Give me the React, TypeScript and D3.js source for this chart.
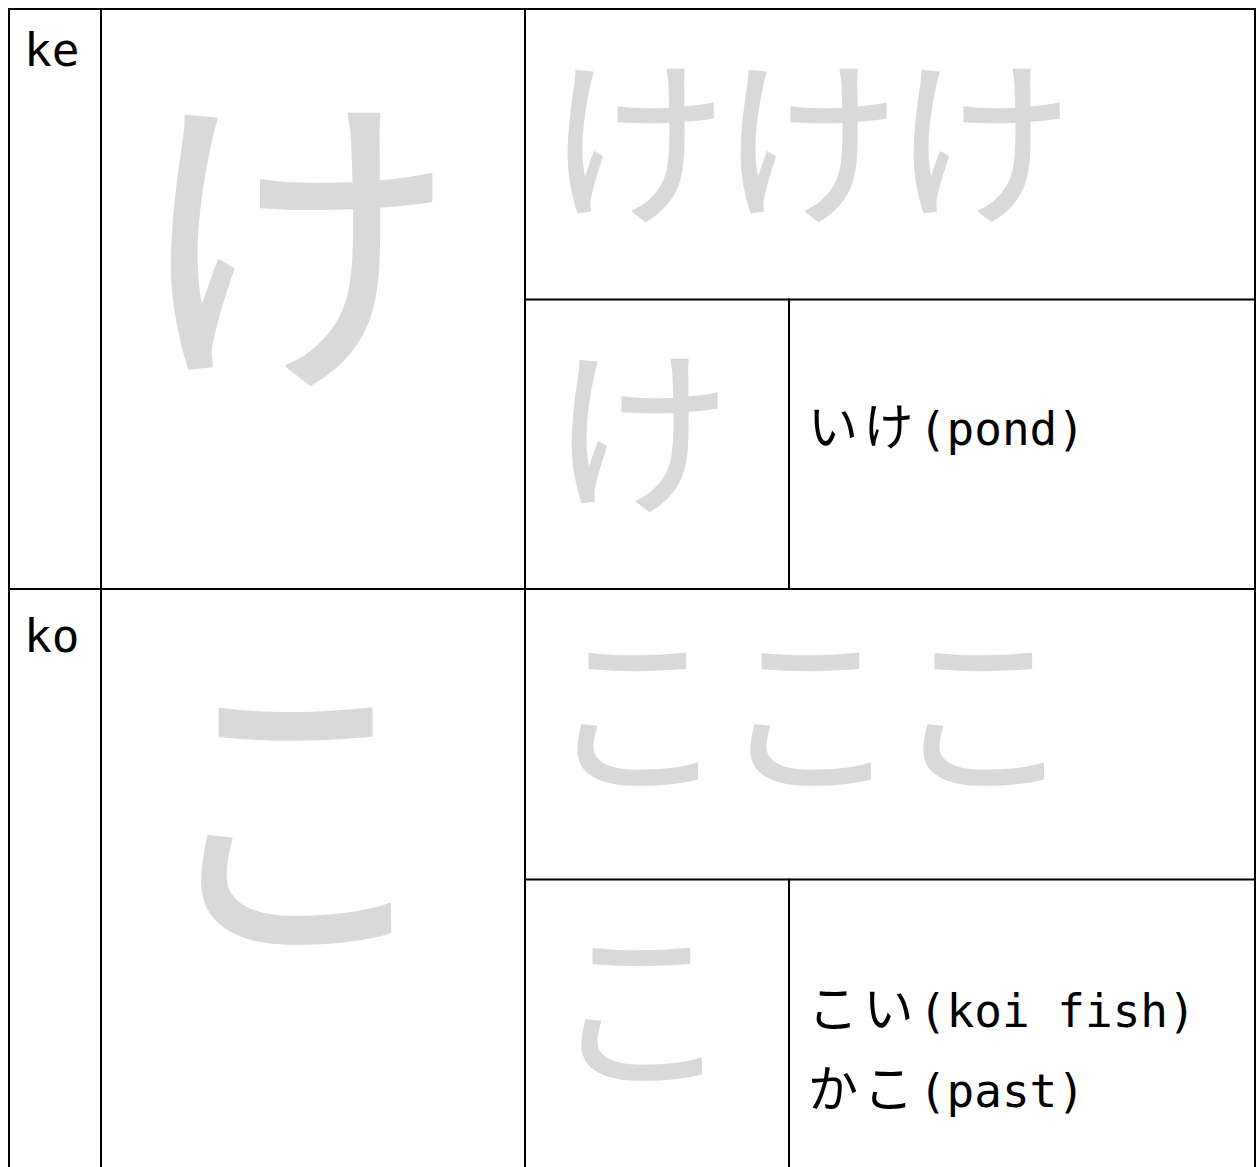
import React from "react";
import * as d3 from "d3";

// ---- data ----
const romaji: string[] = ["ke", "ko"];
const kana: string[] = ["け", "こ"];
const examples: string[][] = [["いけ(pond)"], ["こい(koi fish)", "かこ(past)"]];
const practiceCount = 3;

const W = 1258;
const H = 1167;
const LINE = "#000";
const GREY = "#d9d9d9";
const MONO = "'DejaVu Sans Mono', 'Noto Sans CJK JP', monospace";
const KANA_FONT = "'Noto Sans CJK JP', sans-serif";

function splitKana(s: string): [string, string] {
  let i = 0;
  while (i < s.length && s.charCodeAt(i) > 255) i++;
  return [s.slice(0, i), s.slice(i)];
}

export default function App() {
  // column edges: label | big glyph | practice (left sub) | practice (right sub)
  const colEdges = [9, 101, 525, 789, 1255];
  const rowScale = d3
    .scaleBand<number>()
    .domain(d3.range(romaji.length))
    .range([9, 9 + 580 * romaji.length])
    .paddingInner(0)
    .paddingOuter(0);
  const rh = rowScale.bandwidth();
  const practiceX = d3
    .scaleLinear()
    .domain([0, 1])
    .range([637, 637 + 173]);

  const lines: { x1: number; y1: number; x2: number; y2: number }[] = [];
  lines.push({ x1: colEdges[0], y1: 9, x2: colEdges[4], y2: 9 });
  lines.push({ x1: colEdges[0], y1: 9, x2: colEdges[0], y2: H + 10 });
  lines.push({ x1: colEdges[1], y1: 9, x2: colEdges[1], y2: H + 10 });
  lines.push({ x1: colEdges[2], y1: 9, x2: colEdges[2], y2: H + 10 });
  lines.push({ x1: colEdges[4], y1: 9, x2: colEdges[4], y2: H + 10 });
  romaji.forEach((_, i) => {
    const y0 = rowScale(i)!;
    const ym = y0 + rh / 2 + 0.5;
    lines.push({ x1: colEdges[0], y1: y0 + rh, x2: colEdges[4], y2: y0 + rh });
    lines.push({ x1: colEdges[2], y1: ym, x2: colEdges[4], y2: ym });
    lines.push({ x1: colEdges[3], y1: ym, x2: colEdges[3], y2: y0 + rh });
  });

  const labelOffsets = [57, 63];
  const glyphShiftY = [0, -10];

  return (
    <svg
      width={W}
      height={H}
      style={{ position: "absolute", left: 0, top: 0, background: "#fff" }}
    >
      <rect x={0} y={0} width={W} height={H} fill="#fff" />
      {romaji.map((r, i) => {
        const y0 = rowScale(i)!;
        const dy = glyphShiftY[i];
        const bigCy = y0 + 234 + dy;
        const smallCy = y0 + 133 + dy;
        const subCy = y0 + rh / 2 + 133 + dy * 0.5;
        const bigScaleX = i === 1 ? 0.88 : 1;
        return (
          <g key={r}>
            <text
              x={24}
              y={y0 + labelOffsets[i]}
              fontFamily={MONO}
              fontSize={46}
              fill="#000"
            >
              {r}
            </text>
            <g transform={`translate(295,${bigCy + 0.38 * 322}) scale(${bigScaleX},1)`}>
              <text
                x={0}
                y={0}
                textAnchor="middle"
                fontFamily={KANA_FONT}
                fontSize={322}
                fill={GREY}
                stroke={GREY}
                strokeWidth={3}
                strokeLinejoin="round"
              >
                {kana[i]}
              </text>
            </g>
            {d3.range(practiceCount).map((k) => (
              <text
                key={k}
                x={practiceX(k)}
                y={smallCy + 0.38 * 180}
                textAnchor="middle"
                fontFamily={KANA_FONT}
                fontSize={180}
                fill={GREY}
                stroke={GREY}
                strokeWidth={1.5}
                strokeLinejoin="round"
              >
                {kana[i]}
              </text>
            ))}
            <text
              x={practiceX(0) + 4}
              y={subCy + 0.38 * 180}
              textAnchor="middle"
              fontFamily={KANA_FONT}
              fontSize={180}
              fill={GREY}
              stroke={GREY}
              strokeWidth={1.5}
              strokeLinejoin="round"
            >
              {kana[i]}
            </text>
            {examples[i].map((w, j) => {
              const n = examples[i].length;
              const base =
                n === 1 ? y0 + rh / 2 + 146 : y0 + rh / 2 + 148 + j * 80;
              const [k, rest] = splitKana(w);
              return (
                <text
                  key={j}
                  x={808}
                  y={base}
                  fontFamily={MONO}
                  fontSize={46}
                  fill="#000"
                >
                  <tspan fontFamily={KANA_FONT} fontSize={50} letterSpacing={5.4}>
                    {k}
                  </tspan>
                  <tspan>{rest}</tspan>
                </text>
              );
            })}
          </g>
        );
      })}
      {lines.map((l, i) => (
        <line
          key={i}
          x1={l.x1}
          y1={l.y1}
          x2={l.x2}
          y2={l.y2}
          stroke={LINE}
          strokeWidth={2}
          strokeLinecap="square"
        />
      ))}
    </svg>
  );
}
